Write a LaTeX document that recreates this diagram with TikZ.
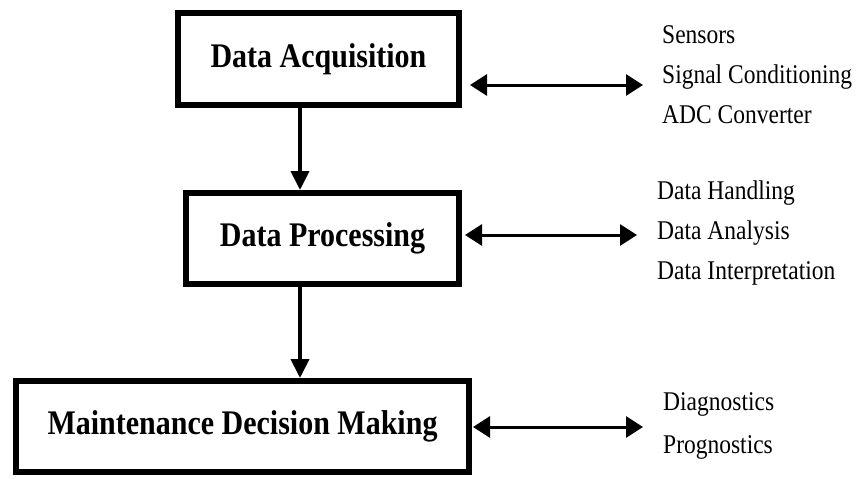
\documentclass[tikz,border=0pt]{standalone}
\usepackage{fontspec}
\setmainfont{Liberation Serif}
\usetikzlibrary{arrows.meta}
\tikzset{
  blockbox/.style={draw=black, line width=6pt, fill=white, inner sep=0pt, align=center,
    font=\fontsize{30}{36}\selectfont\bfseries},
  flowarrow/.style={line width=4pt, -{Triangle[length=19pt,width=18pt]}},
  sidearrow/.style={line width=3pt, {Triangle[length=17pt,width=21pt]}-{Triangle[length=17pt,width=21pt]}},
  sidetext/.style={anchor=base west, inner sep=0pt, font=\fontsize{23.5}{35}\selectfont}
}
\newcommand{\vstretch}[1]{\scalebox{1}[1.15]{#1}}
\begin{document}
\begin{tikzpicture}[x=1pt,y=-1pt]
\useasboundingbox[fill=white] (0,0) rectangle (860,479);
\node[blockbox, minimum width=281pt, minimum height=92pt] (b1) at (318.5,59) {\vstretch{Data Acquisition}};
\node[blockbox, minimum width=273pt, minimum height=91pt] (b2) at (322.5,238.5) {\vstretch{Data Processing}};
\node[blockbox, minimum width=453pt, minimum height=91pt] (b3) at (242.5,426.5) {\vstretch{Maintenance Decision Making}};
\coordinate (v1a) at (300,105);
\coordinate (v1b) at (300,190);
\coordinate (v2a) at (300,284);
\coordinate (v2b) at (300,378);
\draw[flowarrow] (v1a) -- (v1b);
\draw[flowarrow] (v2a) -- (v2b);
\coordinate (h1l) at (470,85);
\coordinate (h1r) at (643,85);
\coordinate (h2l) at (465,235);
\coordinate (h2r) at (637,235);
\coordinate (h3l) at (473,427);
\coordinate (h3r) at (643,427);
\draw[sidearrow] (h1l) -- (h1r);
\draw[sidearrow] (h2l) -- (h2r);
\draw[sidearrow] (h3l) -- (h3r);
\node[sidetext] (t1) at (662,43) {\vstretch{\begin{tabular}[t]{@{}l@{}}Sensors\\Signal Conditioning\\ADC Converter\end{tabular}}};
\node[sidetext] (t2) at (657,199) {\vstretch{\begin{tabular}[t]{@{}l@{}}Data Handling\\Data Analysis\\Data Interpretation\end{tabular}}};
\node[sidetext, font=\fontsize{23.5}{37.5}\selectfont] (t3) at (663,410) {\vstretch{\begin{tabular}[t]{@{}l@{}}Diagnostics\\Prognostics\end{tabular}}};
\end{tikzpicture}
\end{document}
